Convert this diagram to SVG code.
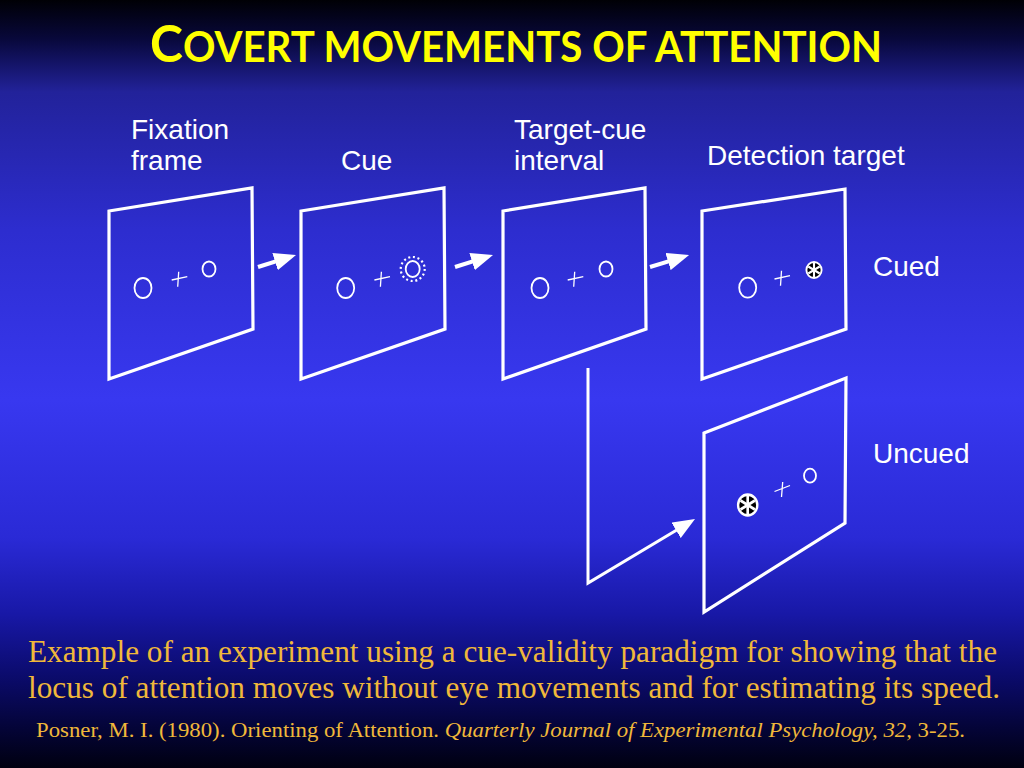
<svg xmlns="http://www.w3.org/2000/svg" width="1024" height="768" viewBox="0 0 1024 768">
<defs>
<linearGradient id="bg" x1="0" y1="0" x2="0" y2="1">
<stop offset="0" stop-color="#000005"/>
<stop offset="0.05" stop-color="#08083a"/>
<stop offset="0.12" stop-color="#22229a"/>
<stop offset="0.3" stop-color="#2d2dcf"/>
<stop offset="0.52" stop-color="#3838f0"/>
<stop offset="0.7" stop-color="#2a2ad6"/>
<stop offset="0.8" stop-color="#1818a6"/>
<stop offset="0.88" stop-color="#0b0b6c"/>
<stop offset="0.95" stop-color="#040436"/>
<stop offset="1" stop-color="#000010"/>
</linearGradient>
<marker id="ah" markerUnits="userSpaceOnUse" markerWidth="22" markerHeight="18" viewBox="0 0 22 18" refX="10" refY="9" orient="auto">
<path d="M0,0 L22,9 L0,18 z" fill="#ffffff"/>
</marker>
<g id="tgt">
<circle r="8" fill="#000000" stroke="#ffffff" stroke-width="2"/>
<g stroke="#ffffff" stroke-width="2.2">
<line x1="0" y1="-7" x2="0" y2="7"/>
<line x1="-6" y1="-3.5" x2="6" y2="3.5"/>
<line x1="-6" y1="3.5" x2="6" y2="-3.5"/>
</g>
</g>
</defs>
<style>
.frame{fill:none;stroke:#ffffff;stroke-width:3.2;stroke-linejoin:miter}
.ring{fill:none;stroke:#ffffff;stroke-width:1.8}
.cross{stroke:#ffffff;stroke-width:1.3;fill:none}
.conn{fill:none;stroke:#ffffff;stroke-width:4}
.conn2{fill:none;stroke:#ffffff;stroke-width:3}
.lbl{font-family:"Liberation Sans",Arial,sans-serif;font-size:28px;fill:#ffffff}
.cap{font-family:"Liberation Serif","Times New Roman",serif;fill:#f0b83a}
</style>
<rect x="0" y="0" width="1024" height="768" fill="url(#bg)"/>

<text x="150" y="62" font-family="Lato,'Open Sans',sans-serif" font-weight="bold" fill="#ffff00" textLength="732" lengthAdjust="spacingAndGlyphs"><tspan font-size="52">C</tspan><tspan font-size="42">OVERT MOVEMENTS OF ATTENTION</tspan></text>

<g id="labels">
<text class="lbl" x="131" y="139">Fixation</text>
<text class="lbl" x="131" y="170">frame</text>
<text class="lbl" x="341" y="170">Cue</text>
<text class="lbl" x="514" y="139">Target-cue</text>
<text class="lbl" x="514" y="170">interval</text>
<text class="lbl" x="707" y="165">Detection target</text>
<text class="lbl" x="873" y="276">Cued</text>
<text class="lbl" x="873" y="463">Uncued</text>
</g>

<g id="fixation">
<polygon class="frame" points="109,211 252,188 253,329 109,379"/>
<ellipse class="ring" cx="143" cy="288" rx="8.5" ry="10"/>
<path class="cross" d="M171.7,280 L187.3,276.7 M178.7,271.7 L177.7,286.7"/>
<ellipse class="ring" cx="209" cy="269" rx="6.5" ry="7.5"/>
</g>

<g id="cue">
<polygon class="frame" points="301,211 444,188 445,329 301,379"/>
<ellipse class="ring" cx="345.7" cy="288" rx="8.5" ry="10"/>
<path class="cross" d="M374.4,280 L390,276.7 M381.4,271.7 L380.4,286.7"/>
<ellipse class="ring" cx="412.7" cy="269" rx="7" ry="8"/>
<circle cx="412.7" cy="269" r="12" fill="none" stroke="#ffffff" stroke-width="2.2" stroke-dasharray="2 2.7"/>
</g>

<g id="interval">
<polygon class="frame" points="503,211 645,188 646,329 503,379"/>
<ellipse class="ring" cx="540" cy="288" rx="8.5" ry="10"/>
<path class="cross" d="M567.7,280 L583.3,276.7 M574.7,271.7 L573.7,286.7"/>
<ellipse class="ring" cx="606" cy="269" rx="6.5" ry="7.5"/>
</g>

<g id="cued">
<polygon class="frame" points="702,211 845,189 846,329 702,379"/>
<ellipse class="ring" cx="747.7" cy="287.7" rx="8.5" ry="10"/>
<path class="cross" d="M774.5,279 L790,275.7 M781.5,270.7 L780.5,285.7"/>
<use href="#tgt" transform="translate(814 270) scale(0.95 1.0)"/>
</g>

<g id="uncued">
<polygon class="frame" points="704,433 846,378 845,523 704,612"/>
<use href="#tgt" transform="translate(747.7 505) scale(1.2 1.3)"/>
<path class="cross" d="M774.5,491.5 L790,485.5 M782.7,482 L781.5,497"/>
<ellipse class="ring" cx="810" cy="475.7" rx="6" ry="7"/>
</g>

<g id="connectors">
<line class="conn" x1="258" y1="267" x2="284.6" y2="258.6" marker-end="url(#ah)"/>
<line class="conn" x1="455" y1="267" x2="481.6" y2="258.6" marker-end="url(#ah)"/>
<line class="conn" x1="650" y1="267" x2="677.6" y2="258.6" marker-end="url(#ah)"/>
<polyline class="conn2" points="588,368 588,583 684.7,525.2" marker-end="url(#ah)"/>
</g>

<g id="caption">
<text class="cap" x="28" y="662" font-size="31" textLength="969" lengthAdjust="spacingAndGlyphs">Example of an experiment using a cue-validity paradigm for showing that the</text>
<text class="cap" x="28" y="698" font-size="31" textLength="972" lengthAdjust="spacingAndGlyphs">locus of attention moves without eye movements and for estimating its speed.</text>
<text class="cap" x="36" y="737" font-size="22" textLength="929" lengthAdjust="spacingAndGlyphs">Posner, M. I. (1980). Orienting of Attention. <tspan font-style="italic">Quarterly Journal of Experimental Psychology, 32</tspan>, 3-25.</text>
</g>
</svg>
